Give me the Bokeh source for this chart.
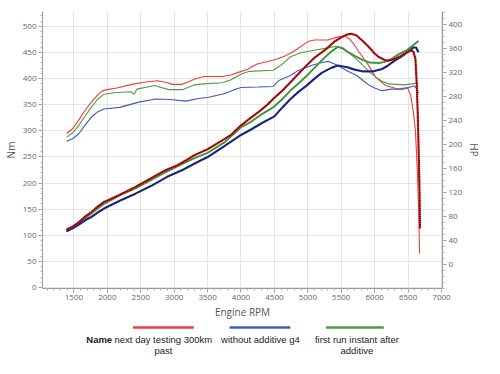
from bokeh.plotting import figure
from bokeh.models import Range1d, LinearAxis, SingleIntervalTicker, FixedTicker
from bokeh.layouts import column
from bokeh.embed import file_html
from bokeh.resources import INLINE
from bokeh.core.properties import value

# ---------------- data ----------------
series_names = ["next day testing 300km\npast", "without additive g4", "first run instant after\nadditive"]

red_nm_rpm = [1390, 1480, 1570, 1660, 1760, 1850, 1930, 2000, 2140, 2370, 2550, 2750, 2900, 2970, 3110, 3200,
              3300, 3440, 3720, 3850, 3960, 4100, 4240, 4400, 4530, 4650, 4760, 4880, 5000, 5100, 5300, 5450,
              5560, 5620, 5690, 5760, 5830, 5920, 6020, 6160, 6350, 6490, 6540, 6580, 6610, 6640, 6660, 6672]
red_nm = [295, 304, 320, 338, 355, 368, 377, 379, 382, 389, 393, 396, 392, 389, 389, 393,
          399, 404, 404, 407, 412, 418, 428, 433, 437, 443, 450, 460, 471, 474, 474, 480,
          481, 476, 466, 452, 440, 423, 402, 387, 380, 383, 368, 335, 300, 220, 140, 65]

red_hp_rpm = [1390, 1480, 1570, 1660, 1760, 1850, 1950, 2050, 2185, 2420, 2660, 2850, 3040, 3200, 3300, 3500,
              3720, 3850, 4000, 4150, 4270, 4400, 4500, 4620, 4740, 4850, 4980, 5100, 5260, 5400, 5500, 5600,
              5650, 5730, 5830, 5920, 6000, 6064, 6150, 6206, 6300, 6395, 6480, 6540, 6580, 6610, 6630, 6645,
              6655, 6670, 6678]
red_hp = [58, 63, 70, 79, 87, 96, 104, 109, 116, 129, 144, 156, 165, 175, 182, 192,
          207, 216, 232, 245, 255, 267, 278, 290, 304, 317, 332, 345, 358, 372, 379, 384,
          385, 382, 372, 362, 352, 346, 341, 340, 343, 348, 354, 357, 355, 343, 300, 250,
          204, 130, 60]

blue_nm_rpm = [1390, 1480, 1570, 1660, 1760, 1850, 1950, 2185, 2470, 2730, 2940, 3180, 3365, 3500, 3746, 3880,
               4000, 4250, 4480, 4574, 4740, 4835, 5050, 5213, 5307, 5400, 5496, 5600, 5733, 5830, 5922, 6000,
               6111, 6253, 6442, 6584, 6630, 6655]
blue_nm = [280, 285, 294, 310, 326, 336, 342, 345, 355, 361, 360, 357, 362, 364, 371, 378,
           383, 384, 385, 397, 406, 414, 425, 431, 433, 428, 422, 414, 406, 396, 387, 382,
           377, 380, 380, 386, 382, 372]

blue_hp_rpm = [1390, 1480, 1570, 1660, 1760, 1850, 1950, 2185, 2420, 2658, 2895, 3132, 3321, 3500, 3746, 4000,
               4150, 4315, 4500, 4620, 4740, 4860, 4977, 5100, 5213, 5350, 5450, 5592, 5700, 5828, 5970, 6111,
               6200, 6300, 6400, 6489, 6584, 6620, 6655]
blue_hp = [55, 60, 66, 73, 79, 86, 93, 106, 118, 131, 146, 158, 169, 179, 197, 216,
           225, 236, 247, 262, 276, 288, 298, 310, 320, 328, 332, 329, 325, 322, 322, 326,
           332, 340, 347, 354, 362, 362, 354]

green_nm_rpm = [1390, 1480, 1570, 1660, 1760, 1850, 1950, 2100, 2351, 2398, 2445, 2706, 2919, 3132, 3297, 3439,
                3722, 3850, 4006, 4125, 4480, 4600, 4740, 4906, 5118, 5300, 5425, 5520, 5638, 5740, 5828, 5920,
                6017, 6110, 6206, 6442, 6560, 6655]
green_nm = [288, 296, 310, 327, 345, 360, 370, 373, 375, 370, 380, 387, 379, 379, 388, 390,
            392, 398, 409, 414, 416, 426, 442, 450, 455, 459, 462, 457, 447, 436, 425, 413,
            403, 395, 390, 388, 390, 392]

green_hp_rpm = [1390, 1480, 1570, 1660, 1760, 1850, 1950, 2185, 2420, 2658, 2895, 3132, 3321, 3500, 3746, 4000,
                4150, 4300, 4480, 4620, 4740, 4860, 4977, 5118, 5260, 5360, 5450, 5520, 5592, 5700, 5828, 5922,
                6064, 6150, 6253, 6350, 6489, 6580, 6655]
green_hp = [56, 61, 68, 76, 85, 93, 101, 115, 127, 141, 155, 168, 178, 186, 203, 229,
            238, 250, 262, 276, 290, 302, 314, 330, 346, 356, 363, 361, 355, 348, 341, 337,
            336, 338, 343, 350, 358, 366, 373]

x_ticks_interval = 500
nm_ticks_interval = 50
hp_ticks = list(range(0, 401, 40))
hp_minor = list(range(-40, 421, 10))

# ---------------- styling ----------------
RED, BLUE, GREEN = "#f03c3c", "#4058c0", "#4f9c45"
RED_D, BLUE_D = "#d81c1c", "#24358f"
TICK_FONT = "Open Sans"

p = figure(width=484, height=321, output_backend="svg", toolbar_location=None,
           x_range=Range1d(1030, 7015), y_range=Range1d(-1.9, 528.6),
           min_border_left=30, min_border_right=28, min_border_top=11, min_border_bottom=30)
p.extra_y_ranges = {"hp": Range1d(-40.4, 422.1)}
p.outline_line_color = None
p.background_fill_color = "white"

p.xaxis.ticker = SingleIntervalTicker(interval=x_ticks_interval, num_minor_ticks=5)
p.yaxis.ticker = SingleIntervalTicker(interval=nm_ticks_interval, num_minor_ticks=5)
p.xaxis.axis_label = "Engine RPM"
p.yaxis.axis_label = "Nm"

hp_axis = LinearAxis(y_range_name="hp", axis_label="HP",
                     ticker=FixedTicker(ticks=hp_ticks, minor_ticks=hp_minor))
p.add_layout(hp_axis, "right")

for ax in [p.xaxis[0], p.yaxis[0], hp_axis]:
    ax.axis_line_color = "#9a9a9a"
    ax.major_tick_line_color = "#9a9a9a"
    ax.minor_tick_line_color = "#b0b0b0"
    ax.major_tick_out = 4
    ax.major_tick_in = 0
    ax.minor_tick_out = 2
    ax.minor_tick_in = 0
    ax.major_label_text_font = TICK_FONT
    ax.major_label_text_font_size = "8px"
    ax.major_label_text_color = "#666666"
    ax.major_label_standoff = 2
    ax.axis_label_text_font = TICK_FONT
    ax.axis_label_text_font_size = "10px"
    ax.axis_label_text_font_style = "normal"
    ax.axis_label_text_color = "#555555"
    ax.axis_label_standoff = 2

p.xgrid.grid_line_color = "#e4e4e4"
p.ygrid.grid_line_color = "#e4e4e4"

# torque (thin)
p.line(red_nm_rpm, red_nm, color=RED, line_width=1.1)
p.line(green_nm_rpm, green_nm, color=GREEN, line_width=1.1)
p.line(blue_nm_rpm, blue_nm, color=BLUE, line_width=1.1)

# power (thick, dotted overlay)
p.line(green_hp_rpm, green_hp, color=GREEN, line_width=2, y_range_name="hp")
p.line(green_hp_rpm, green_hp, color="#2e6a28", line_width=1, line_dash="1 2", y_range_name="hp")
p.line(blue_hp_rpm, blue_hp, color=BLUE_D, line_width=2.2, y_range_name="hp")
p.line(blue_hp_rpm, blue_hp, color="#0c1445", line_width=1.1, line_dash="1 1", y_range_name="hp")
p.line(red_hp_rpm, red_hp, color=RED_D, line_width=2.2, y_range_name="hp")
p.line(red_hp_rpm, red_hp, color="#1a0000", line_width=1.1, line_dash="1 1", y_range_name="hp")

# ---------------- legend strip ----------------
# the column layout aligns this strip's frame with the chart frame (page x ~39..441),
# so the strip's x range is expressed in page pixels over that span
lg = figure(width=484, height=37, output_backend="svg", toolbar_location=None,
            x_range=Range1d(39, 441), y_range=Range1d(37, 0),
            x_axis_location=None, y_axis_location=None,
            min_border=0, min_border_left=0, min_border_right=0, min_border_top=0, min_border_bottom=0)
lg.grid.visible = False
lg.outline_line_color = None

lg.segment(x0=[130, 227, 324], y0=[6, 6, 6], x1=[191, 288, 382], y1=[6, 6, 6],
           color=[RED, BLUE, GREEN], line_width=2.5)
lg.text(x=[83], y=[12], text=["Name"], text_font=value("Liberation Sans"), text_font_size="9.5px",
        text_font_style="bold", text_baseline="top", text_align="left", text_color="#222222")
lg.text(x=[160.5, 258, 355], y=[12, 12, 12], text=series_names,
        text_font=value("Liberation Sans"), text_font_size="9.5px", text_baseline="top",
        text_align="center", text_color="#222222", text_line_height=1.05)

layout = column(p, lg, spacing=0)
open("out.html", "w").write(file_html(layout, INLINE))
